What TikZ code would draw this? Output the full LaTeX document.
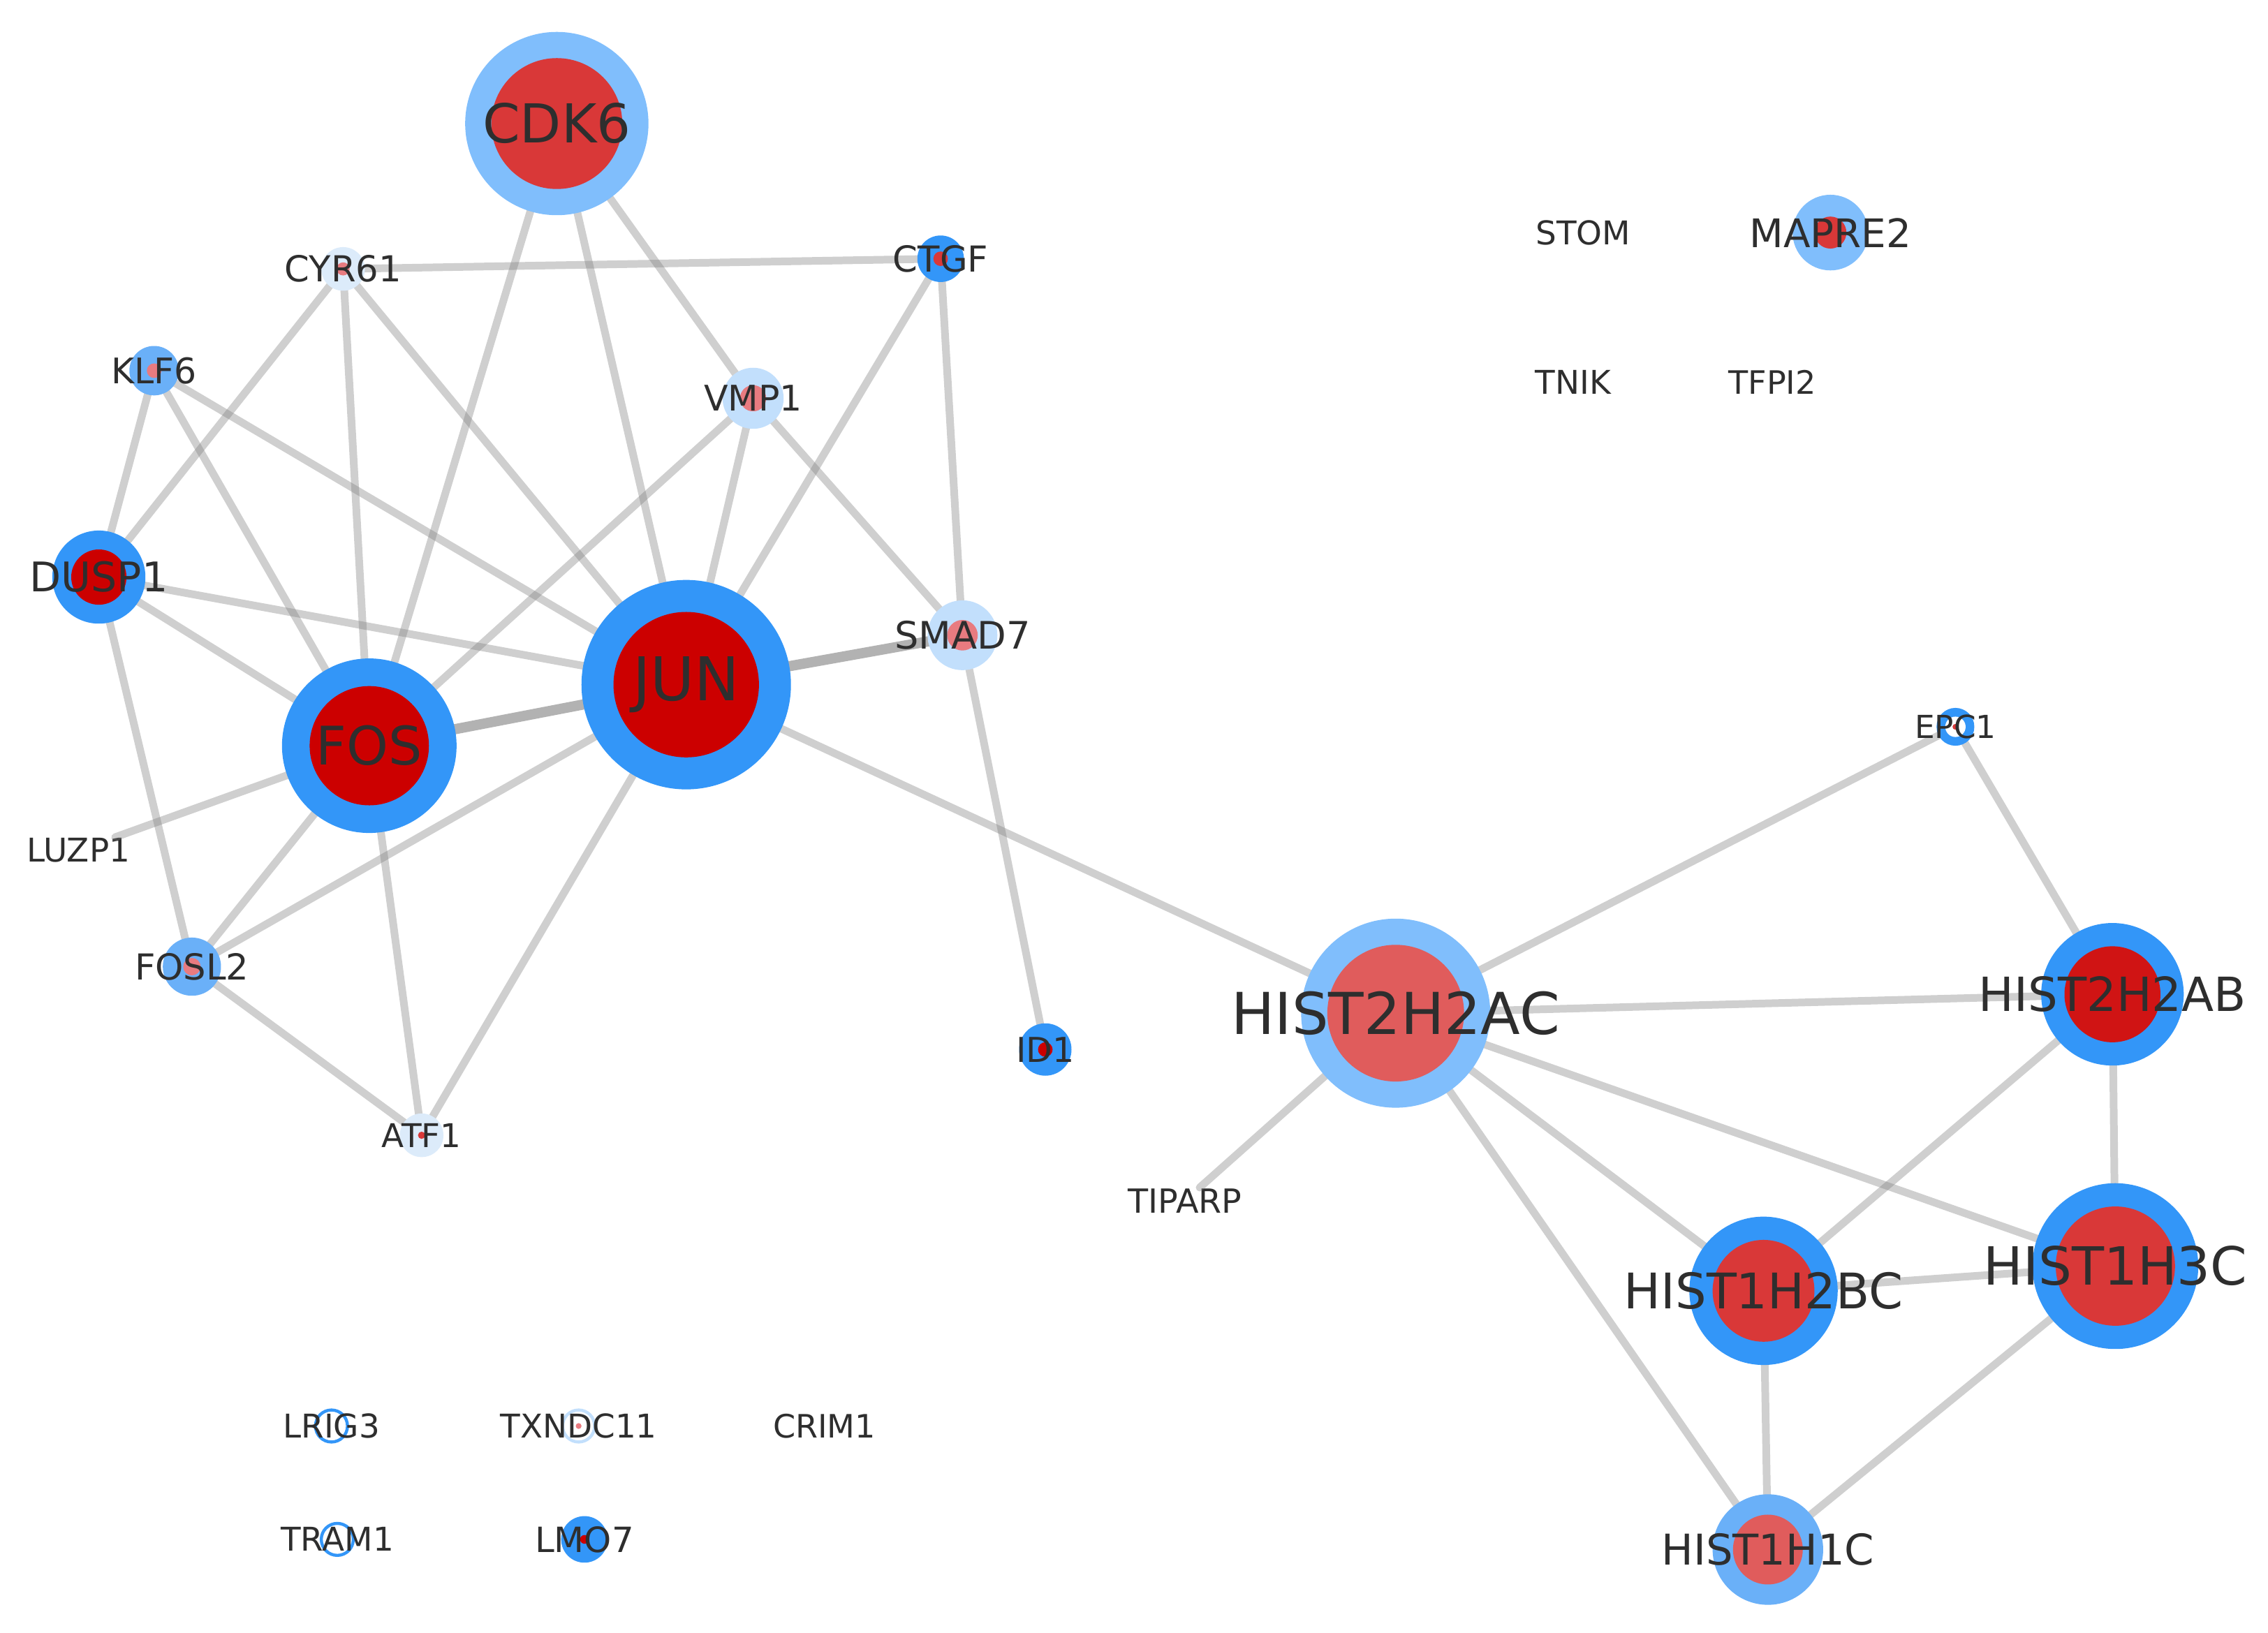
\documentclass[tikz,border=0pt]{standalone}
\usepackage{fontspec}
\setmainfont{DejaVu Sans}

\definecolor{blpale}{HTML}{DCEBFA}
\definecolor{bllite}{HTML}{C2DFFC}
\definecolor{blsky}{HTML}{80BEFC}
\definecolor{blmid}{HTML}{6AB0F8}
\definecolor{blfull}{HTML}{3396F8}
\definecolor{rddark}{HTML}{CC0000}
\definecolor{rdhist}{HTML}{D01414}
\definecolor{rdmid}{HTML}{D93838}
\definecolor{rdsalm}{HTML}{E05C5C}
\definecolor{rdpink}{HTML}{E87B80}
\definecolor{txtgray}{HTML}{2E2E2E}
\newcommand{\gfs}[1]{\fontsize{#1}{#1}\selectfont}

\begin{document}
\begin{tikzpicture}[x=0.01cm, y=-0.01cm,
    link/.style={line width=1.5pt, draw=black!50, draw opacity=0.38, line cap=round},
    linkb/.style={line width=2pt, draw=black!55, draw opacity=0.55, line cap=round},
    lbl/.style={inner sep=0pt, text=txtgray},
    ring/.style={draw=#1, line width=0.6pt, fill=white}]
  \useasboundingbox (0,0) rectangle (1560,1123.4);

  % gene positions
  \coordinate (cdk6) at (383,85);
  \coordinate (cyr61) at (236,185);
  \coordinate (ctgf) at (647,178);
  \coordinate (klf6) at (106,255);
  \coordinate (vmp1) at (518,274);
  \coordinate (dusp1) at (68,397);
  \coordinate (jun) at (472,471);
  \coordinate (fos) at (254,513);
  \coordinate (smad7) at (662,437);
  \coordinate (fosl2) at (132,665);
  \coordinate (atf1) at (290,781);
  \coordinate (id1) at (719,722);
  \coordinate (h2ac) at (960,697);
  \coordinate (epc1) at (1345,500);
  \coordinate (h2ab) at (1453,684);
  \coordinate (h3c) at (1455,871);
  \coordinate (h2bc) at (1213,888);
  \coordinate (h1c) at (1216,1066);
  \coordinate (mapre2) at (1259,160);
  \coordinate (lrig3) at (228,981);
  \coordinate (txndc11) at (398,981);
  \coordinate (tram1) at (232,1059);
  \coordinate (lmo7) at (402,1059);

  % genes without a circle
  \node[lbl, font=\gfs{6.4}] (luzp1) at (54,585) {LUZP1};
  \node[lbl, font=\gfs{6.5}] (tiparp) at (815,826) {TIPARP};
  \node[lbl, font=\gfs{6.4}] (stom) at (1089,160) {STOM};
  \node[lbl, font=\gfs{6.4}] (tnik) at (1082,263) {TNIK};
  \node[lbl, font=\gfs{6.3}] (tfpi2) at (1219,263) {TFPI2};
  \node[lbl, font=\gfs{6.3}] (crim1) at (567,981) {CRIM1};

  % interactions
  \draw[link] (cdk6) -- (fos);
  \draw[link] (cdk6) -- (jun);
  \draw[link] (cdk6) -- (vmp1);
  \draw[link] (cyr61) -- (ctgf);
  \draw[link] (cyr61) -- (dusp1);
  \draw[link] (cyr61) -- (fos);
  \draw[link] (cyr61) -- (jun);
  \draw[link] (klf6) -- (dusp1);
  \draw[link] (klf6) -- (fos);
  \draw[link] (klf6) -- (jun);
  \draw[link] (vmp1) -- (fos);
  \draw[link] (vmp1) -- (jun);
  \draw[link] (vmp1) -- (smad7);
  \draw[link] (ctgf) -- (jun);
  \draw[link] (ctgf) -- (smad7);
  \draw[link] (dusp1) -- (jun);
  \draw[link] (dusp1) -- (fos);
  \draw[link] (dusp1) -- (fosl2);
  \draw[linkb] (jun) -- (smad7);
  \draw[linkb] (fos) -- (jun);
  \draw[link] (fos) -- (luzp1);
  \draw[link] (fos) -- (fosl2);
  \draw[link] (fos) -- (atf1);
  \draw[link] (jun) -- (fosl2);
  \draw[link] (jun) -- (atf1);
  \draw[link] (jun) -- (h2ac);
  \draw[link] (fosl2) -- (atf1);
  \draw[link] (smad7) -- (id1);
  \draw[link] (h2ac) -- (epc1);
  \draw[link] (h2ac) -- (h2ab);
  \draw[link] (h2ac) -- (h3c);
  \draw[link] (h2ac) -- (h2bc);
  \draw[link] (h2ac) -- (h1c);
  \draw[link] (h2ac) -- (tiparp);
  \draw[link] (epc1) -- (h2ab);
  \draw[link] (h2ab) -- (h3c);
  \draw[link] (h2ab) -- (h2bc);
  \draw[link] (h2bc) -- (h3c);
  \draw[link] (h2bc) -- (h1c);
  \draw[link] (h3c) -- (h1c);

  % circles: outer ring, then inner disc
  \fill[blsky] (cdk6) circle (6.3mm); \fill[rdmid] (cdk6) circle (4.5mm);
  \fill[blpale] (cyr61) circle (1.5mm); \fill[rdpink] (cyr61) circle (0.45mm);
  \fill[blfull] (ctgf) circle (1.6mm); \fill[rdmid] (ctgf) circle (0.5mm);
  \fill[blmid] (klf6) circle (1.7mm); \fill[rdpink] (klf6) circle (0.5mm);
  \fill[bllite] (vmp1) circle (2.1mm); \fill[rdpink] (vmp1) circle (0.9mm);
  \fill[blfull] (dusp1) circle (3.2mm); \fill[rddark] (dusp1) circle (1.9mm);
  \fill[blfull] (jun) circle (7.2mm); \fill[rddark] (jun) circle (5.0mm);
  \fill[blfull] (fos) circle (6.0mm); \fill[rddark] (fos) circle (4.1mm);
  \fill[bllite] (smad7) circle (2.4mm); \fill[rdpink] (smad7) circle (1.05mm);
  \fill[blmid] (fosl2) circle (2.0mm); \fill[rdpink] (fosl2) circle (0.6mm);
  \fill[blpale] (atf1) circle (1.5mm); \fill[rdmid] (atf1) circle (0.25mm);
  \fill[blfull] (id1) circle (1.8mm); \fill[rddark] (id1) circle (0.5mm);
  \fill[blsky] (h2ac) circle (6.5mm); \fill[rdsalm] (h2ac) circle (4.7mm);
  \fill[blfull] (epc1) circle (1.3mm); \fill[white] (epc1) circle (0.7mm); \fill[rdmid] (epc1) circle (0.2mm);
  \fill[blfull] (h2ab) circle (4.9mm); \fill[rdhist] (h2ab) circle (3.3mm);
  \fill[blfull] (h3c) circle (5.7mm); \fill[rdmid] (h3c) circle (4.1mm);
  \fill[blfull] (h2bc) circle (5.1mm); \fill[rdmid] (h2bc) circle (3.5mm);
  \fill[blmid] (h1c) circle (3.8mm); \fill[rdsalm] (h1c) circle (2.4mm);
  \fill[blsky] (mapre2) circle (2.6mm); \fill[rdmid] (mapre2) circle (1.1mm);
  \draw[ring=blfull] (lrig3) circle (1.1mm);
  \draw[ring=bllite] (txndc11) circle (1.1mm); \fill[rdpink] (txndc11) circle (0.2mm);
  \draw[ring=blfull] (tram1) circle (1.1mm);
  \fill[blfull] (lmo7) circle (1.6mm); \fill[rddark] (lmo7) circle (0.3mm);

  % labels
  \node[lbl, font=\gfs{10.5}] (cdk6-t) at (cdk6) {CDK6};
  \node[lbl, font=\gfs{7}] (cyr61-t) at (cyr61) {CYR61};
  \node[lbl, font=\gfs{7}] (ctgf-t) at (ctgf) {CTGF};
  \node[lbl, font=\gfs{6.9}] (klf6-t) at (klf6) {KLF6};
  \node[lbl, font=\gfs{6.9}] (vmp1-t) at (vmp1) {VMP1};
  \node[lbl, font=\gfs{8}] (dusp1-t) at (dusp1) {DUSP1};
  \node[lbl, font=\gfs{11.8}] (jun-t) at (jun) {JUN};
  \node[lbl, font=\gfs{10.4}] (fos-t) at (fos) {FOS};
  \node[lbl, font=\gfs{7.4}] (smad7-t) at (smad7) {SMAD7};
  \node[lbl, font=\gfs{7}] (fosl2-t) at (fosl2) {FOSL2};
  \node[lbl, font=\gfs{6.4}] (atf1-t) at (atf1) {ATF1};
  \node[lbl, font=\gfs{6.7}] (id1-t) at (id1) {ID1};
  \node[lbl, font=\gfs{11.3}] (h2ac-t) at (h2ac) {HIST2H2AC};
  \node[lbl, font=\gfs{6.2}] (epc1-t) at (epc1) {EPC1};
  \node[lbl, font=\gfs{9.2}] (h2ab-t) at (h2ab) {HIST2H2AB};
  \node[lbl, font=\gfs{10.3}] (h3c-t) at (h3c) {HIST1H3C};
  \node[lbl, font=\gfs{9.6}] (h2bc-t) at (h2bc) {HIST1H2BC};
  \node[lbl, font=\gfs{8.3}] (h1c-t) at (h1c) {HIST1H1C};
  \node[lbl, font=\gfs{7.7}] (mapre2-t) at (mapre2) {MAPRE2};
  \node[lbl, font=\gfs{6.4}] (lrig3-t) at (lrig3) {LRIG3};
  \node[lbl, font=\gfs{6.4}] (txndc11-t) at (txndc11) {TXNDC11};
  \node[lbl, font=\gfs{6.4}] (tram1-t) at (tram1) {TRAM1};
  \node[lbl, font=\gfs{6.8}] (lmo7-t) at (lmo7) {LMO7};
\end{tikzpicture}
\end{document}
